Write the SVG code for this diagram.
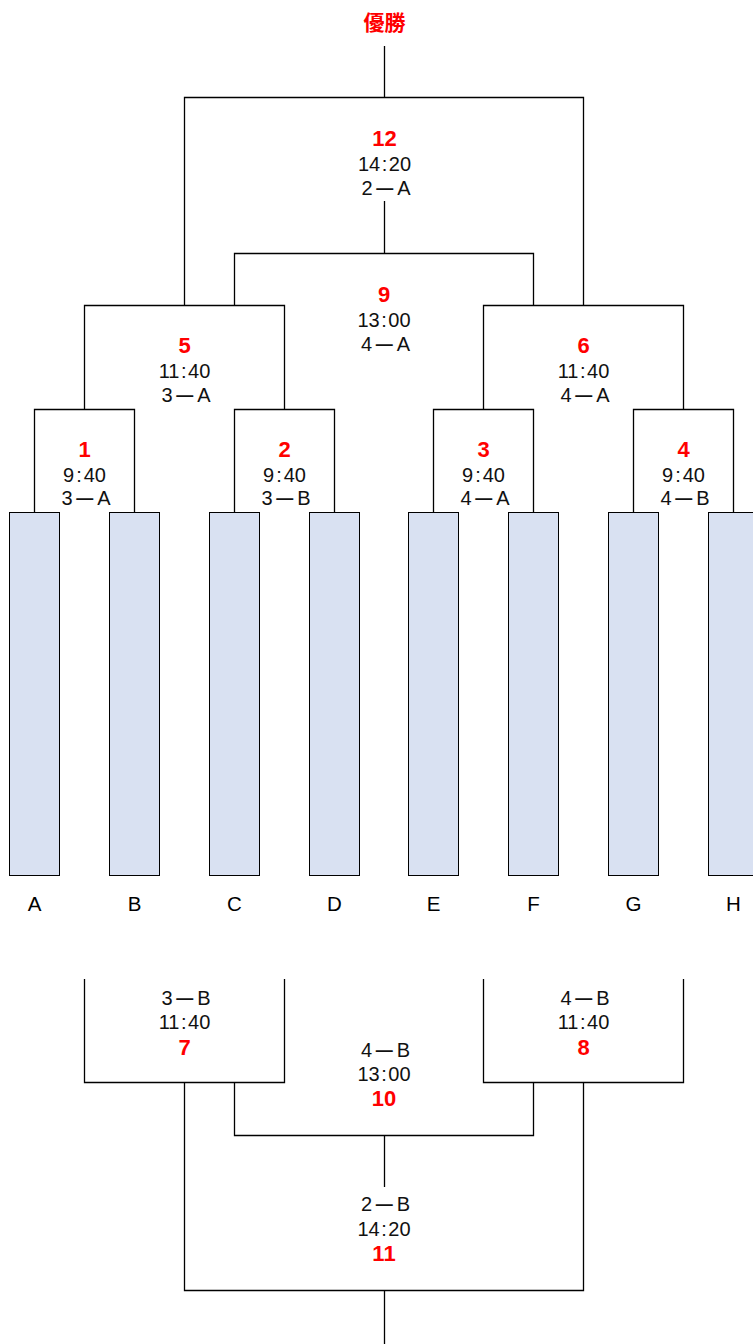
<svg xmlns="http://www.w3.org/2000/svg" width="753" height="1344" viewBox="0 0 753 1344">
<style>
.ln{stroke:#000;stroke-width:1.3;fill:none}
.box{fill:#D9E1F2;stroke:#000;stroke-width:1}
.t{font-family:"Liberation Sans",Arial,sans-serif;font-size:20px;fill:#111;text-anchor:middle}
.d{font-size:17px;font-weight:bold}
.n{font-family:"Liberation Sans",Arial,sans-serif;font-size:22px;font-weight:bold;fill:#FF0000;text-anchor:middle}
.lb{font-family:"Liberation Sans",Arial,sans-serif;font-size:20.5px;fill:#000;text-anchor:middle}
.w{font-family:"Noto Sans CJK JP",sans-serif;font-size:21px;font-weight:bold;fill:#FF0000;text-anchor:middle}
</style>
<rect width="753" height="1344" fill="#fff"/>
<g id="connectors" class="ln">
<path d="M384.5,46V97.5M184.5,305.5V97.5H583.5V305.5"/>
<path d="M384.5,201V253.5M234.5,305.5V253.5H533.5V305.5"/>
<path d="M84.5,409.5V305.5H284.5V409.5"/>
<path d="M483.5,409.5V305.5H683.5V409.5"/>
<path d="M34.5,512.5V409.5H134.5V512.5"/>
<path d="M234.5,512.5V409.5H334.5V512.5"/>
<path d="M433.5,512.5V409.5H533.5V512.5"/>
<path d="M633.5,512.5V409.5H733.5V512.5"/>
<path d="M84.5,979V1082.5H284.5V979"/>
<path d="M483.5,979V1082.5H683.5V979"/>
<path d="M234.5,1082.5V1135.5H533.5V1082.5"/>
<path d="M384.5,1135.5V1187"/>
<path d="M184.5,1082.5V1290.5H583.5V1082.5"/>
<path d="M384.5,1290.5V1344"/>
</g>
<g id="champion"><text class="w" x="384.5" y="30">優勝</text></g>
<g id="match12"><text class="n" x="384.5" y="146">12</text><text class="t" x="384.5" y="171">14<tspan dx="1.5">:</tspan><tspan dx="1.5">20</tspan></text><text class="t" x="386" y="195">2<tspan class="d" dx="3.5" dy="-1.5">―</tspan><tspan dx="4" dy="1.5">A</tspan></text></g>
<g id="match9"><text class="n" x="384" y="302">9</text><text class="t" x="384" y="327">13<tspan dx="1.5">:</tspan><tspan dx="1.5">00</tspan></text><text class="t" x="385.5" y="351">4<tspan class="d" dx="3.5" dy="-1.5">―</tspan><tspan dx="4" dy="1.5">A</tspan></text></g>
<g id="match5"><text class="n" x="184.5" y="353">5</text><text class="t" x="184.5" y="378">11<tspan dx="1.5">:</tspan><tspan dx="1.5">40</tspan></text><text class="t" x="186" y="402">3<tspan class="d" dx="3.5" dy="-1.5">―</tspan><tspan dx="4" dy="1.5">A</tspan></text></g>
<g id="match6"><text class="n" x="583.5" y="353">6</text><text class="t" x="583.5" y="378">11<tspan dx="1.5">:</tspan><tspan dx="1.5">40</tspan></text><text class="t" x="585" y="402">4<tspan class="d" dx="3.5" dy="-1.5">―</tspan><tspan dx="4" dy="1.5">A</tspan></text></g>
<g id="match1"><text class="n" x="84.5" y="457">1</text><text class="t" x="84.5" y="482">9<tspan dx="2">:</tspan><tspan dx="2">40</tspan></text><text class="t" x="86" y="505">3<tspan class="d" dx="3.5" dy="-1.5">―</tspan><tspan dx="4" dy="1.5">A</tspan></text></g>
<g id="match2"><text class="n" x="284.5" y="457">2</text><text class="t" x="284.5" y="482">9<tspan dx="2">:</tspan><tspan dx="2">40</tspan></text><text class="t" x="286" y="505">3<tspan class="d" dx="3.5" dy="-1.5">―</tspan><tspan dx="4" dy="1.5">B</tspan></text></g>
<g id="match3"><text class="n" x="483.5" y="457">3</text><text class="t" x="483.5" y="482">9<tspan dx="2">:</tspan><tspan dx="2">40</tspan></text><text class="t" x="485" y="505">4<tspan class="d" dx="3.5" dy="-1.5">―</tspan><tspan dx="4" dy="1.5">A</tspan></text></g>
<g id="match4"><text class="n" x="683.5" y="457">4</text><text class="t" x="683.5" y="482">9<tspan dx="2">:</tspan><tspan dx="2">40</tspan></text><text class="t" x="685" y="505">4<tspan class="d" dx="3.5" dy="-1.5">―</tspan><tspan dx="4" dy="1.5">B</tspan></text></g>
<g id="teamA"><rect class="box" x="9.5" y="512.5" width="50" height="363"/><text class="lb" x="34.5" y="911">A</text></g>
<g id="teamB"><rect class="box" x="109.5" y="512.5" width="50" height="363"/><text class="lb" x="134.5" y="911">B</text></g>
<g id="teamC"><rect class="box" x="209.5" y="512.5" width="50" height="363"/><text class="lb" x="234.5" y="911">C</text></g>
<g id="teamD"><rect class="box" x="309.5" y="512.5" width="50" height="363"/><text class="lb" x="334.5" y="911">D</text></g>
<g id="teamE"><rect class="box" x="408.5" y="512.5" width="50" height="363"/><text class="lb" x="433.5" y="911">E</text></g>
<g id="teamF"><rect class="box" x="508.5" y="512.5" width="50" height="363"/><text class="lb" x="533.5" y="911">F</text></g>
<g id="teamG"><rect class="box" x="608.5" y="512.5" width="50" height="363"/><text class="lb" x="633.5" y="911">G</text></g>
<g id="teamH"><rect class="box" x="708.5" y="512.5" width="50" height="363"/><text class="lb" x="733.5" y="911">H</text></g>
<g id="match7"><text class="t" x="186" y="1005">3<tspan class="d" dx="3.5" dy="-1.5">―</tspan><tspan dx="4" dy="1.5">B</tspan></text><text class="t" x="184.5" y="1029">11<tspan dx="1.5">:</tspan><tspan dx="1.5">40</tspan></text><text class="n" x="184.5" y="1055">7</text></g>
<g id="match8"><text class="t" x="585" y="1005">4<tspan class="d" dx="3.5" dy="-1.5">―</tspan><tspan dx="4" dy="1.5">B</tspan></text><text class="t" x="583.5" y="1029">11<tspan dx="1.5">:</tspan><tspan dx="1.5">40</tspan></text><text class="n" x="583.5" y="1055">8</text></g>
<g id="match10"><text class="t" x="385.5" y="1057">4<tspan class="d" dx="3.5" dy="-1.5">―</tspan><tspan dx="4" dy="1.5">B</tspan></text><text class="t" x="384" y="1081">13<tspan dx="1.5">:</tspan><tspan dx="1.5">00</tspan></text><text class="n" x="384" y="1106">10</text></g>
<g id="match11"><text class="t" x="385.5" y="1211">2<tspan class="d" dx="3.5" dy="-1.5">―</tspan><tspan dx="4" dy="1.5">B</tspan></text><text class="t" x="384" y="1236">14<tspan dx="1.5">:</tspan><tspan dx="1.5">20</tspan></text><text class="n" x="384" y="1261">11</text></g>
</svg>
